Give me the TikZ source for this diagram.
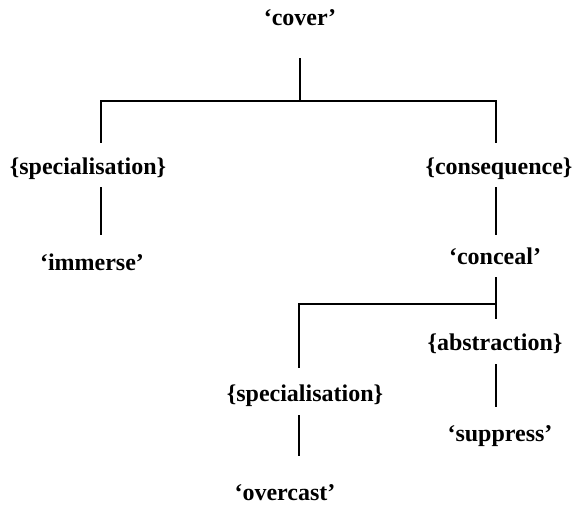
\documentclass[tikz,border=0pt]{standalone}
\usepackage{fontspec}
\setmainfont{Liberation Serif}
\usepackage{tikz}
\usetikzlibrary{positioning}

\tikzset{
  word/.style={font=\fontsize{24}{28}\selectfont\bfseries, inner sep=0pt, text height=17pt, text depth=5pt},
  link/.style={line width=1.3pt},
}

\begin{document}
\begin{tikzpicture}[x=1pt, y=-1pt]
\useasboundingbox (0,0) rectangle (581,510);

% Words
\node[word] (cover)    at (300,20)  {`cover'};
\node[word] (immerse)  at (92,265)  {`immerse'};
\node[word] (conceal)  at (495,259) {`conceal'};
\node[word] (suppress) at (500,435) {`suppress'};
\node[word] (overcast) at (285,494) {`overcast'};

% Relations
\node[word] (spec)   at (88,169)  {\{specialisation\}};
\node[word] (conseq) at (499,169) {\{consequence\}};
\node[word] (abstr)  at (495,345) {\{abstraction\}};
\node[word] (specb)  at (305,396) {\{specialisation\}};

% Junctions
\coordinate (top) at (300,101);
\coordinate (tl)  at (101,101);
\coordinate (tr)  at (496,101);
\coordinate (mid) at (496,304);
\coordinate (ml)  at (299,304);

% Connect the nodes
\draw[link, shorten <=27pt] (cover.south) -- (top);
\draw[link, shorten <=15pt, shorten >=15pt] (tl |- spec.north) -- (tl) -- (tr) -- (tr |- conseq.north);
\draw[link, shorten <=7pt, shorten >=19pt] (spec.south -| tl) -- (immerse.north -| tl);
\draw[link, shorten <=7pt, shorten >=13pt] (conseq.south -| tr) -- (conceal.north -| tr);
\draw[link, shorten <=7pt, shorten >=15pt] (conceal.south -| mid) -- (abstr.north -| mid);
\draw[link, shorten >=17pt] (mid) -- (ml) -- (ml |- specb.north);
\draw[link, shorten <=8pt, shorten >=17pt] (abstr.south -| mid) -- (suppress.north -| mid);
\draw[link, shorten <=8pt, shorten >=27pt] (specb.south -| ml) -- (overcast.north -| ml);
\end{tikzpicture}
\end{document}
